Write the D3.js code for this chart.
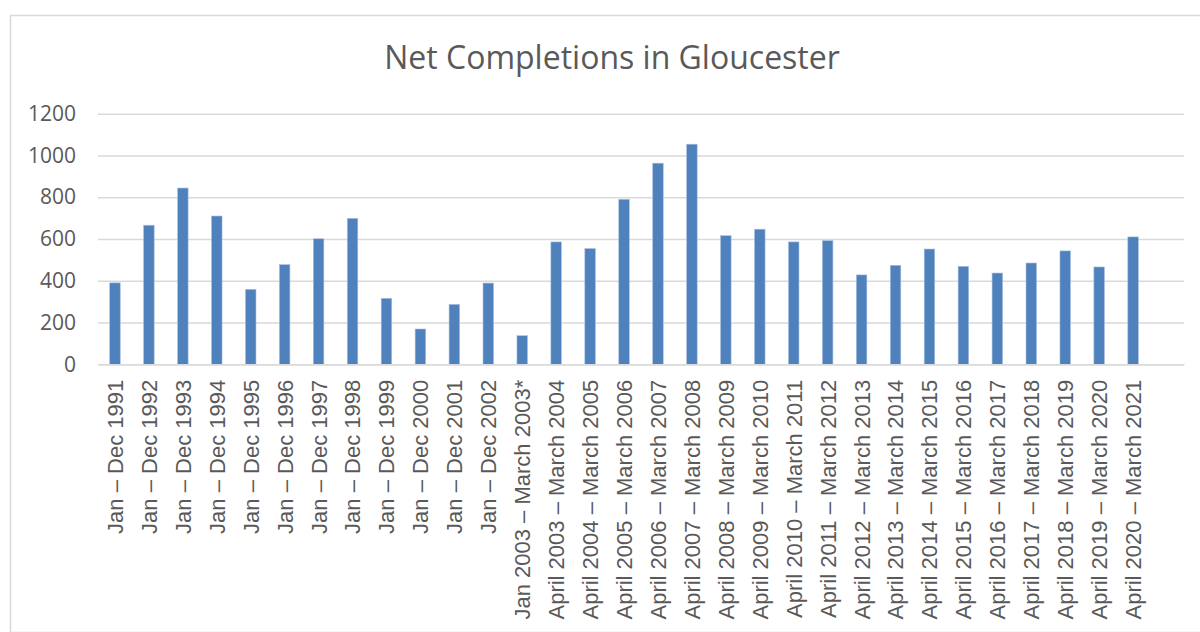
<!DOCTYPE html>
<html>
<head>
<meta charset="utf-8">
<script src="https://cdn.jsdelivr.net/npm/d3@7"></script>
<style>
  body { margin: 0; background: #fff; }
  .grid line { stroke: #d9d9d9; stroke-width: 1.5; }
  .grid .domain { display: none; }
  .yaxis text { font-family: "Open Sans", sans-serif; font-size: 21px; fill: #595959; }
  .xaxis text { font-family: "Liberation Sans", Arial, sans-serif; font-size: 22px; fill: #595959; }
</style>
</head>
<body>
<div id="chart"></div>
<script>
// periods along the x axis (last slot is empty in the original chart)
var periods = [
  "Jan – Dec 1991", "Jan – Dec 1992", "Jan – Dec 1993", "Jan – Dec 1994",
  "Jan – Dec 1995", "Jan – Dec 1996", "Jan – Dec 1997", "Jan – Dec 1998",
  "Jan – Dec 1999", "Jan – Dec 2000", "Jan – Dec 2001", "Jan – Dec 2002",
  "Jan 2003 – March 2003*",
  "April 2003 – March 2004", "April 2004 – March 2005", "April 2005 – March 2006",
  "April 2006 – March 2007", "April 2007 – March 2008", "April 2008 – March 2009",
  "April 2009 – March 2010", "April 2010 – March 2011", "April 2011 – March 2012",
  "April 2012 – March 2013", "April 2013 – March 2014", "April 2014 – March 2015",
  "April 2015 – March 2016", "April 2016 – March 2017", "April 2017 – March 2018",
  "April 2018 – March 2019", "April 2019 – March 2020", "April 2020 – March 2021",
  ""
];

var completions = [
  390, 666, 844, 710, 359, 477, 601, 699, 316, 169, 287, 389,
  137,
  586, 554, 790, 963, 1054, 616, 647, 586, 592, 428, 474, 552,
  469, 437, 485, 543, 466, 610,
  null
];

var yTicks = [0, 200, 400, 600, 800, 1000, 1200];

var width = 1200,
    height = 632,
    margin = {top: 113.7, right: 16, bottom: 267.7, left: 98},
    barRatio = 0.31;

var svg = d3.select("#chart")
    .append("svg")
    .attr("width", width)
    .attr("height", height);

// chart area border
svg.append("rect")
    .attr("x", 10.5)
    .attr("y", 15.5)
    .attr("width", width + 10)
    .attr("height", height - 15)
    .attr("fill", "none")
    .attr("stroke", "#d9d9d9")
    .attr("stroke-width", 1.5);

var x = d3.scaleBand()
    .domain(d3.range(periods.length))
    .range([margin.left, width - margin.right])
    .padding(0);

var y = d3.scaleLinear()
    .domain([0, 1200])
    .range([height - margin.bottom, margin.top]);

svg.append("text")
    .attr("x", 612)
    .attr("y", 69)
    .attr("text-anchor", "middle")
    .style("font-family", "'Open Sans', sans-serif")
    .style("font-size", "32px")
    .style("fill", "#595959")
    .text("Net Completions in Gloucester");

// gridlines
svg.append("g")
    .attr("class", "grid")
    .attr("transform", "translate(" + margin.left + ",0)")
    .call(d3.axisLeft(y)
      .tickValues(yTicks)
      .tickSize(-(width - margin.right - margin.left))
      .tickFormat(""));

svg.append("g")
    .attr("class", "yaxis")
    .attr("transform", "translate(" + (margin.left - 22) + ",0)")
    .call(d3.axisLeft(y)
      .tickValues(yTicks)
      .tickFormat(d3.format("d"))
      .tickSize(0)
      .tickPadding(0))
    .call(function(g) { g.select(".domain").remove(); });

var bw = x.bandwidth() * barRatio;

svg.append("g")
  .selectAll("rect")
  .data(completions.map(function(v, i) { return {i: i, v: v}; })
    .filter(function(d) { return d.v !== null; }))
  .enter()
  .append("rect")
    .attr("x", function(d) { return x(d.i) + (x.bandwidth() - bw) / 2; })
    .attr("y", function(d) { return y(d.v); })
    .attr("width", bw)
    .attr("height", function(d) { return y(0) - y(d.v); })
    .attr("fill", "#4f81bd")
    .attr("stroke", "#a7bfdf")
    .attr("stroke-width", 0.6);

var xAxis = svg.append("g")
    .attr("class", "xaxis")
    .attr("transform", "translate(0," + y(0) + ")")
    .call(d3.axisBottom(x)
      .tickSize(0)
      .tickFormat(function(i) { return periods[i]; }));

xAxis.select(".domain")
    .attr("stroke", "#d9d9d9")
    .attr("stroke-width", 1.5);

xAxis.selectAll("text")
    .attr("transform", "rotate(-90)")
    .attr("x", -15.5)
    .attr("y", 0)
    .attr("dy", "0.36em")
    .attr("text-anchor", "end");
</script>
</body>
</html>
